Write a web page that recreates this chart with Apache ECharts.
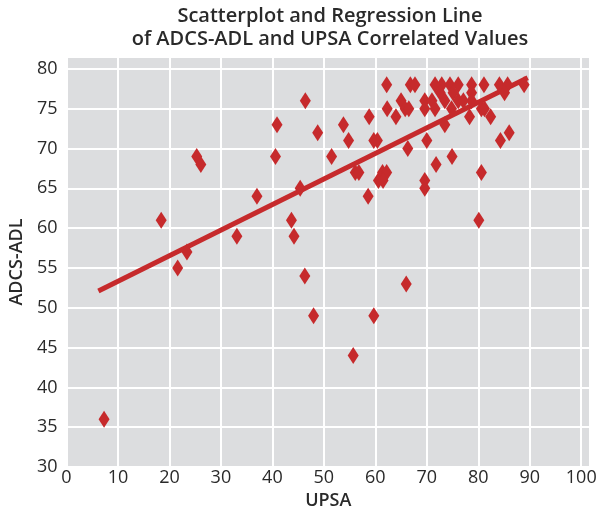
<!DOCTYPE html>
<html>
<head>
<meta charset="utf-8">
<script src="https://cdn.jsdelivr.net/npm/echarts@6/dist/echarts.min.js"></script>
<style>
html,body{margin:0;padding:0;background:#fff;}
#chart{width:600px;height:516px;}
</style>
</head>
<body>
<div id="chart"></div>
<script>
// UPSA (x) values
var upsa = [7.3, 18.4, 21.6, 23.4, 25.3, 26.1, 33.1, 37.0, 40.6, 40.9,
  43.7, 44.2, 45.4, 46.3, 46.4, 48.0, 48.8, 51.5, 53.8, 54.8,
  55.7, 56.1, 56.8, 58.6, 58.8, 59.7, 60.4, 59.7, 60.6, 61.4,
  62.2, 61.5, 62.2, 62.3, 64.0, 65.0, 65.8, 66.5, 66.0, 66.3,
  66.8, 67.7, 69.6, 69.6, 70.0, 69.6, 69.6, 71.8, 71.6, 72.9,
  74.5, 76.1, 72.6, 75.1, 71.0, 73.5, 76.1, 71.6, 73.5, 74.9,
  78.3, 78.7, 78.7, 78.7, 77.1, 80.6, 81.2, 81.1, 82.4, 80.6,
  80.1, 84.1, 85.7, 85.1, 88.9, 84.3, 86.0, 74.8];
// ADCS-ADL (y) values
var adcs = [36, 61, 55, 57, 69, 68, 59, 64, 69, 73,
  61, 59, 65, 54, 76, 49, 72, 69, 73, 71,
  44, 67, 67, 64, 74, 71, 71, 49, 66, 67,
  67, 66, 78, 75, 74, 76, 75, 75, 53, 70,
  78, 78, 76, 75, 71, 66, 65, 68, 78, 78,
  78, 78, 77, 77, 76, 76, 76, 75, 73, 69,
  74, 78, 77, 76, 76, 75, 75, 78, 74, 67,
  61, 78, 78, 77, 78, 71, 72, 75];
// regression line endpoints
var regX = [6.2, 89.6];
var regY = [52.1, 78.9];
var xTicks = [0, 10, 20, 30, 40, 50, 60, 70, 80, 90, 100];
var yTicks = [30, 35, 40, 45, 50, 55, 60, 65, 70, 75, 80];

var red = '#c62a2c';
var pts = upsa.map(function (x, i) { return [x, adcs[i]]; });
var reg = regX.map(function (x, i) { return [x, regY[i]]; });

var chart = echarts.init(document.getElementById('chart'), null, {renderer: 'canvas'});
var labelFont = {fontFamily: 'Open Sans', fontSize: 18, color: '#2a2a2a'};
chart.setOption({
  animation: false,
  title: {
    text: 'Scatterplot and Regression Line\nof ADCS-ADL and UPSA Correlated Values',
    left: 325, top: 0, textAlign: 'center',
    textStyle: {fontFamily: 'Open Sans', fontSize: 20, fontWeight: 600, color: '#2a2a2a', lineHeight: 23}
  },
  grid: {left: 61, right: 10, top: 57, bottom: 49, show: true, backgroundColor: '#dcdddf', borderWidth: 0},
  xAxis: {
    type: 'value', min: 0, max: 101.7, interval: 10,
    name: 'UPSA', nameLocation: 'middle', nameGap: 21,
    nameTextStyle: {fontFamily: 'Open Sans', fontSize: 18, fontWeight: 600, color: '#2a2a2a'},
    axisLine: {show: false}, axisTick: {show: false},
    axisLabel: Object.assign({margin: 2, showMaxLabel: false,
      formatter: function (v) { return xTicks.indexOf(v) >= 0 ? String(v) : ''; }}, labelFont),
    splitLine: {show: true, lineStyle: {color: '#ffffff', width: 2}}
  },
  yAxis: {
    type: 'value', min: 30, max: 81.5, interval: 5,
    name: 'ADCS-ADL', nameLocation: 'middle', nameGap: 35,
    nameTextStyle: {fontFamily: 'Open Sans', fontSize: 18, fontWeight: 600, color: '#2a2a2a'},
    axisLine: {show: false}, axisTick: {show: false},
    axisLabel: Object.assign({margin: 9, showMaxLabel: false,
      formatter: function (v) { return yTicks.indexOf(v) >= 0 ? String(v) : ''; }}, labelFont),
    splitLine: {show: true, lineStyle: {color: '#ffffff', width: 2}}
  },
  series: [
    {
      type: 'line', data: reg, symbol: 'none', z: 2,
      lineStyle: {color: red, width: 5}
    },
    {
      type: 'scatter', data: pts, symbol: 'diamond', symbolSize: [11, 17], z: 3,
      itemStyle: {color: red, opacity: 1}
    }
  ]
});
</script>
</body>
</html>
